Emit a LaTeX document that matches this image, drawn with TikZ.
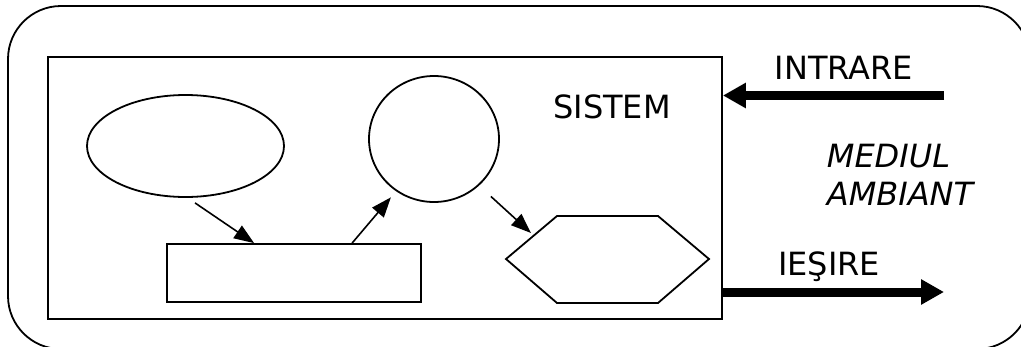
\documentclass[tikz,border=0pt]{standalone}
\usepackage{fontspec}
\setmainfont{DejaVu Sans}
\usetikzlibrary{shapes.geometric,arrows.meta}

\begin{document}
\begin{tikzpicture}[x=1pt,y=-1pt,line width=1.8pt,
  lbl/.style={font=\fontsize{32}{38}\selectfont,inner sep=0pt,anchor=base},
  amb/.style={lbl,anchor=base west,font=\fontsize{32}{38}\selectfont\itshape},
  link/.style={-{Triangle[length=20pt,width=15pt]},line width=1.6pt},
  flow/.style={-{Triangle[length=23pt,width=24pt]},line width=9pt}]

\clip (0,0) rectangle (1021,346);
\draw[rounded corners=53pt] (8,6) rectangle (1030,349);

\node[draw,minimum width=674pt,minimum height=262pt] (sys) at (385,188) {};
\node[draw,ellipse,minimum width=197pt,minimum height=102pt] (ell) at (185.5,146) {};
\node[draw,ellipse,minimum width=130pt,minimum height=126pt] (circ) at (434,139) {};
\node[draw,minimum width=254pt,minimum height=58pt] (box) at (294,273) {};
\draw (506,259) -- (557,216) -- (658,216) -- (709,259) -- (658,303) -- (557,303) -- cycle;
\coordinate (hexin) at (531,233);

\draw[link] ([shift={(9.5,5)}]ell.south) -- ([xshift=88pt]box.north west);
\draw[link,shorten >=8pt] ([xshift=186pt]box.north west) -- (circ.234);
\draw[link,shorten <=16pt] (circ.-46.5) -- (hexin);

\coordinate (in) at (944,95.5);
\coordinate (out) at (944,292);
\draw[flow] (in) -- (in -| sys.east);
\draw[flow] (out -| sys.east) -- (out);

\node[lbl] (intrare) at (844,79) {INTRARE};
\node[lbl] (sistem) at (612,118) {SISTEM};
\node[lbl] (iesire) at (829,275) {IEŞIRE};
\node[amb] (mediul) at (826,167) {MEDIUL};
\node[amb] (ambiant) at (826,205) {AMBIANT};
\end{tikzpicture}
\end{document}
